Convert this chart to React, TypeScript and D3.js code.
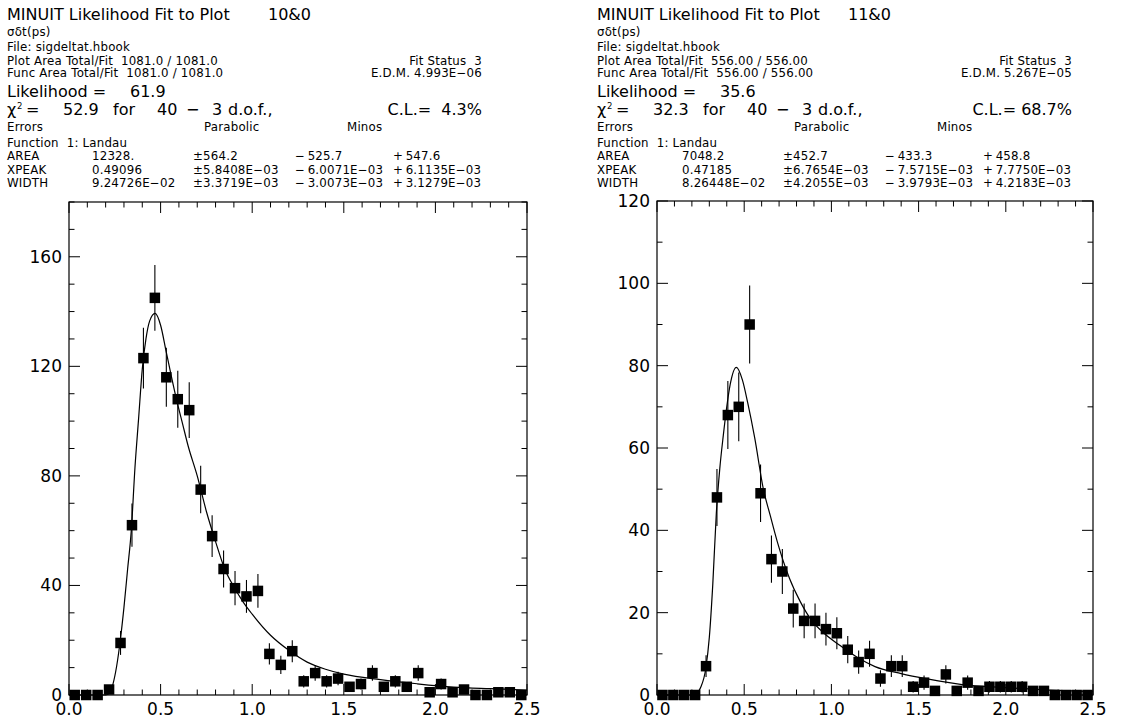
import React from 'react';
import * as d3 from 'd3';

// ---------- data ----------
const X_MIN = 0;
const X_MAX = 2.5;
const BIN_WIDTH = 0.0625;
const xTickValues = [0, 0.5, 1.0, 1.5, 2.0, 2.5];
const xTickLabels = ['0.0', '0.5', '1.0', '1.5', '2.0', '2.5'];

const countsLeft = [0, 0, 0, 2, 19, 62, 123, 145, 116, 108, 104, 75, 58, 46, 39, 36, 38, 15, 11, 16,
  5, 8, 5, 6, 3, 4, 8, 3, 5, 3, 8, 1, 4, 1, 2, 0, 0, 1, 1, 0];
const countsRight = [0, 0, 0, 0, 7, 48, 68, 70, 90, 49, 33, 30, 21, 18, 18, 16, 15, 11, 8, 10,
  4, 7, 7, 2, 3, 1, 5, 1, 3, 1, 2, 2, 2, 2, 1, 1, 0, 0, 0, 0];

// fitted Landau curves
const fitLeftX = [0, 0.2, 0.22, 0.24, 0.26, 0.28, 0.3, 0.32, 0.34, 0.36, 0.38, 0.4, 0.42, 0.44, 0.47, 0.5, 0.53, 0.56, 0.59, 0.62, 0.65, 0.7, 0.75, 0.8, 0.85, 0.9, 0.95, 1.0, 1.1, 1.2, 1.3, 1.4, 1.5, 1.7, 1.9, 2.1, 2.3, 2.5];
const fitLeftY = [0, 0, 0.6, 4, 10.5, 20, 32, 46, 60, 83, 101, 119, 130, 136.5, 139.3, 135, 125.5, 116, 107, 99, 91, 80, 67, 56, 46, 39.5, 34, 29.5, 21.8, 16.3, 12, 9.4, 7.6, 5.6, 4.1, 2.9, 2.3, 1.8];
const fitRightX = [0, 0.2, 0.225, 0.25, 0.28, 0.3, 0.32, 0.34, 0.36, 0.38, 0.4, 0.42, 0.455, 0.49, 0.52, 0.56, 0.61, 0.65, 0.69, 0.76, 0.82, 0.88, 0.95, 1.05, 1.15, 1.25, 1.4, 1.55, 1.75, 2.0, 2.25, 2.5];
const fitRightY = [0, 0, 0.3, 1.8, 6.5, 14, 27, 44, 55, 63, 70, 75.5, 79.6, 76.5, 71, 62.5, 50, 43.5, 37.2, 28.3, 22.8, 18.5, 15.3, 12, 9.1, 6.9, 5.2, 3.9, 2.5, 1.8, 1.2, 0.8];

const yTicksLeft = [0, 40, 80, 120, 160];
const yTicksRight = [0, 20, 40, 60, 80, 100, 120];

const idLeft = '10&0';
const idRight = '11&0';
const plotAreaLeft = '1081.0 / 1081.0';
const plotAreaRight = '556.00 / 556.00';
const edmLeft = '4.993E\u221206';
const edmRight = '5.267E\u221205';
const likelihoodLeft = '61.9';
const likelihoodRight = '35.6';
const chi2Left = '52.9';
const chi2Right = '32.3';
const clLeft = 'C.L.=  4.3%';
const clRight = 'C.L.= 68.7%';
const paramNames = ['AREA', 'XPEAK', 'WIDTH'];
const paramsLeft = [
  ['12328.', '\u00b1564.2', '\u2212\u2009525.7', '+\u2009547.6'],
  ['0.49096', '\u00b15.8408E\u221203', '\u2212\u20096.0071E\u221203', '+\u20096.1135E\u221203'],
  ['9.24726E\u221202', '\u00b13.3719E\u221203', '\u2212\u20093.0073E\u221203', '+\u20093.1279E\u221203'],
];
const paramsRight = [
  ['7048.2', '\u00b1452.7', '\u2212\u2009433.3', '+\u2009458.8'],
  ['0.47185', '\u00b16.7654E\u221203', '\u2212\u20097.5715E\u221203', '+\u20097.7750E\u221203'],
  ['8.26448E\u221202', '\u00b14.2055E\u221203', '\u2212\u20093.9793E\u221203', '+\u20094.2183E\u221203'],
];

// ---------- layout ----------
const FONT = '"DejaVu Sans", sans-serif';
const BIG = 16;
const SMALL = 11.8;
const TICKF = 17;

type PanelProps = {
  tx: number; idX: number;
  frame: { x0: number; x1: number; y0: number; y1: number };
  yMax: number; yTicks: number[];
  counts: number[]; fitX: number[]; fitY: number[];
  id: string; plotArea: string; edm: string; likelihood: string; chi2: string; cl: string;
  params: string[][];
};

function Panel(p: PanelProps) {
  const { frame, tx } = p;
  const x = d3.scaleLinear().domain([X_MIN, X_MAX]).range([frame.x0, frame.x1]);
  const y = d3.scaleLinear().domain([0, p.yMax]).range([frame.y1, frame.y0]);
  const line = d3.line<number>()
    .x((_, i) => x(p.fitX[i]))
    .y((d) => y(d))
    .curve(d3.curveMonotoneX);
  const xMinor = d3.range(0, 26).map((i) => i / 10);
  const yMinor = d3.range(0, p.yMax / 10 + 1).map((i) => i * 10);
  const isMajorX = (v: number) => Math.abs(v * 2 - Math.round(v * 2)) < 1e-6;
  const isMajorY = (v: number) => p.yTicks.includes(v);
  const right = tx + 475;
  const sq = 10.5;
  const pre = { whiteSpace: 'pre' as const };
  const small = { whiteSpace: 'pre' as const, letterSpacing: '0.2px' };
  const rowY = [160, 173.5, 187];
  const cols = [0, 85, 186, 288, 386];

  return (
    <g fontFamily={FONT} fill="#000">
      {/* header */}
      <text x={tx} y={20} fontSize={BIG}>MINUIT Likelihood Fit to Plot</text>
      <text x={p.idX} y={20} fontSize={BIG}>{p.id}</text>
      <text x={tx} y={36} fontSize={SMALL} style={small}>σδt(ps)</text>
      <text x={tx} y={51} fontSize={SMALL} style={small}>File: sigdeltat.hbook</text>
      <text x={tx} y={65} fontSize={SMALL} style={small}>{'Plot Area Total/Fit  ' + p.plotArea}</text>
      <text x={tx} y={77} fontSize={SMALL} style={small}>{'Func Area Total/Fit  ' + p.plotArea}</text>
      <text x={right} y={65} fontSize={SMALL} textAnchor="end" style={small}>{'Fit Status  3'}</text>
      <text x={right} y={77} fontSize={SMALL} textAnchor="end" style={small}>{'E.D.M. ' + p.edm}</text>
      <text x={tx} y={97} fontSize={BIG}>Likelihood =</text>
      <text x={tx + 123} y={97} fontSize={BIG}>{p.likelihood}</text>
      <text x={tx} y={115} fontSize={BIG}>χ</text>
      <text x={tx + 10} y={108.5} fontSize={8.5}>2</text>
      <text x={tx + 19} y={115} fontSize={BIG}>=</text>
      <text x={tx + 56} y={115} fontSize={BIG}>{p.chi2}</text>
      <text x={tx + 106} y={115} fontSize={BIG}>for</text>
      <text x={tx + 150} y={115} fontSize={BIG}>40</text>
      <text x={tx + 179} y={115} fontSize={BIG}>{'\u2212'}</text>
      <text x={tx + 205} y={115} fontSize={BIG}>3</text>
      <text x={tx + 221} y={115} fontSize={BIG}>d.o.f.,</text>
      <text x={right} y={115} fontSize={BIG} textAnchor="end" style={pre}>{p.cl}</text>
      <text x={tx} y={131} fontSize={SMALL} style={small}>Errors</text>
      <text x={tx + 197} y={131} fontSize={SMALL} style={small}>Parabolic</text>
      <text x={tx + 340} y={131} fontSize={SMALL} style={small}>Minos</text>
      <text x={tx} y={146.5} fontSize={SMALL} style={small}>{'Function  1: Landau'}</text>
      {paramNames.map((n, r) => (
        <g key={n}>
          <text x={tx + cols[0]} y={rowY[r]} fontSize={SMALL} style={small}>{n}</text>
          {p.params[r].map((s, c) => (
            <text key={c} x={tx + cols[c + 1]} y={rowY[r]} fontSize={SMALL} style={small}>{s}</text>
          ))}
        </g>
      ))}

      {/* frame */}
      <rect x={frame.x0} y={frame.y0} width={frame.x1 - frame.x0} height={frame.y1 - frame.y0}
        fill="none" stroke="#000" strokeWidth={1.2} />
      {xMinor.map((v) => {
        const len = isMajorX(v) ? 11 : 5.5;
        return (
          <g key={'xt' + v} stroke="#000" strokeWidth={1}>
            <line x1={x(v)} x2={x(v)} y1={frame.y1} y2={frame.y1 - len} />
            <line x1={x(v)} x2={x(v)} y1={frame.y0} y2={frame.y0 + len} />
          </g>
        );
      })}
      {yMinor.map((v) => {
        const len = isMajorY(v) ? 11 : 5.5;
        return (
          <g key={'yt' + v} stroke="#000" strokeWidth={1}>
            <line x1={frame.x0} x2={frame.x0 + len} y1={y(v)} y2={y(v)} />
            <line x1={frame.x1} x2={frame.x1 - len} y1={y(v)} y2={y(v)} />
          </g>
        );
      })}
      {xTickValues.map((v, i) => (
        <text key={'xl' + i} x={x(v)} y={frame.y1 + 20} fontSize={TICKF} textAnchor="middle">{xTickLabels[i]}</text>
      ))}
      {p.yTicks.map((v) => (
        <text key={'yl' + v} x={frame.x0 - 7} y={y(v) + 6} fontSize={TICKF} textAnchor="end">{String(v)}</text>
      ))}

      {/* fit */}
      <path d={line(p.fitY) || ''} fill="none" stroke="#000" strokeWidth={1.2} />

      {/* data */}
      {p.counts.map((c, i) => {
        const xc = x(X_MIN + (i + 0.5) * BIN_WIDTH);
        const err = Math.sqrt(c);
        return (
          <g key={'d' + i}>
            {c > 0 && (
              <line x1={xc} x2={xc} y1={y(c + err)} y2={Math.min(y(c - err), frame.y1)} stroke="#000" strokeWidth={1.1} />
            )}
            <rect x={xc - sq / 2} y={y(c) - sq / 2} width={sq} height={sq} fill="#000" />
          </g>
        );
      })}
    </g>
  );
}

export default function App() {
  return (
    <svg width={1138} height={727} style={{ position: 'absolute', left: 0, top: 0, background: '#fff' }}>
      <rect x={0} y={0} width={1138} height={727} fill="#fff" />
      <Panel tx={7} idX={268} frame={{ x0: 69, x1: 527, y0: 202, y1: 695 }} yMax={180} yTicks={yTicksLeft}
        counts={countsLeft} fitX={fitLeftX} fitY={fitLeftY} id={idLeft} plotArea={plotAreaLeft}
        edm={edmLeft} likelihood={likelihoodLeft} chi2={chi2Left} cl={clLeft} params={paramsLeft} />
      <Panel tx={597} idX={848} frame={{ x0: 657, x1: 1093, y0: 201, y1: 695 }} yMax={120} yTicks={yTicksRight}
        counts={countsRight} fitX={fitRightX} fitY={fitRightY} id={idRight} plotArea={plotAreaRight}
        edm={edmRight} likelihood={likelihoodRight} chi2={chi2Right} cl={clRight} params={paramsRight} />
    </svg>
  );
}
